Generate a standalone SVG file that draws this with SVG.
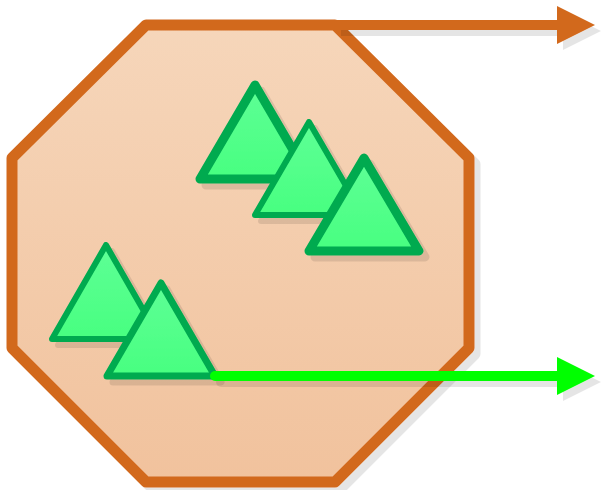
<svg xmlns="http://www.w3.org/2000/svg" width="603" height="490" viewBox="0 0 603 490">
  <defs>
    <linearGradient id="octFill" x1="0" y1="0" x2="0" y2="1">
      <stop offset="0" stop-color="#F6D6BA"/>
      <stop offset="1" stop-color="#F1C29D"/>
    </linearGradient>
    <linearGradient id="triFill" x1="0" y1="0" x2="0" y2="1">
      <stop offset="0" stop-color="#5EFF96"/>
      <stop offset="1" stop-color="#48FF80"/>
    </linearGradient>
    <filter id="shadow" filterUnits="userSpaceOnUse" x="0" y="0" width="603" height="490">
      <feOffset in="SourceAlpha" dx="6" dy="6" result="off"/>
      <feFlood flood-color="#000" flood-opacity="0.1"/>
      <feComposite in2="off" operator="in" result="sh"/>
      <feMerge>
        <feMergeNode in="sh"/>
        <feMergeNode in="SourceGraphic"/>
      </feMerge>
    </filter>
    <marker id="arrOrange" markerUnits="userSpaceOnUse" markerWidth="40" markerHeight="40" refX="0" refY="19" orient="auto" viewBox="0 0 40 40">
      <path d="M0,0 L38,19 L0,38 Z" fill="#D2691E"/>
    </marker>
    <marker id="arrGreen" markerUnits="userSpaceOnUse" markerWidth="40" markerHeight="40" refX="0" refY="19" orient="auto" viewBox="0 0 40 40">
      <path d="M0,0 L38,19 L0,38 Z" fill="#00FF00"/>
    </marker>
  </defs>
  <style>
    .oct { fill: url(#octFill); stroke: #D2691E; stroke-width: 11; stroke-linejoin: round; }
    .tri { fill: url(#triFill); stroke: #00AA50; stroke-linejoin: round; }
    .edge { fill: none; stroke-width: 10; }
  </style>

  <g id="octagon" filter="url(#shadow)">
    <polygon class="oct" points="146,25 335,25 469,158 469,348 335,482 146,482 12,348 12,158"/>
  </g>

  <g id="tri1" filter="url(#shadow)">
    <polygon class="tri" stroke-width="9" points="255,85 310,179 200,179"/>
  </g>
  <g id="tri2" filter="url(#shadow)">
    <polygon class="tri" stroke-width="6" points="309,122 363,215 255,215"/>
  </g>
  <g id="tri3" filter="url(#shadow)">
    <polygon class="tri" stroke-width="9" points="364,158 419,251 309,251"/>
  </g>
  <g id="tri4" filter="url(#shadow)">
    <polygon class="tri" stroke-width="6" points="106,245 160,339 52,339"/>
  </g>
  <g id="tri5" filter="url(#shadow)">
    <polygon class="tri" stroke-width="7" points="161,283 215,376 107,376"/>
  </g>

  <g id="connectors">
    <g filter="url(#shadow)">
      <path class="edge" d="M335,25 H557" stroke="#D2691E" marker-end="url(#arrOrange)"/>
    </g>
    <g filter="url(#shadow)">
      <path class="edge" d="M215,376 H557" stroke="#00FF00" stroke-width="9" stroke-linecap="round" marker-end="url(#arrGreen)"/>
    </g>
  </g>
</svg>
